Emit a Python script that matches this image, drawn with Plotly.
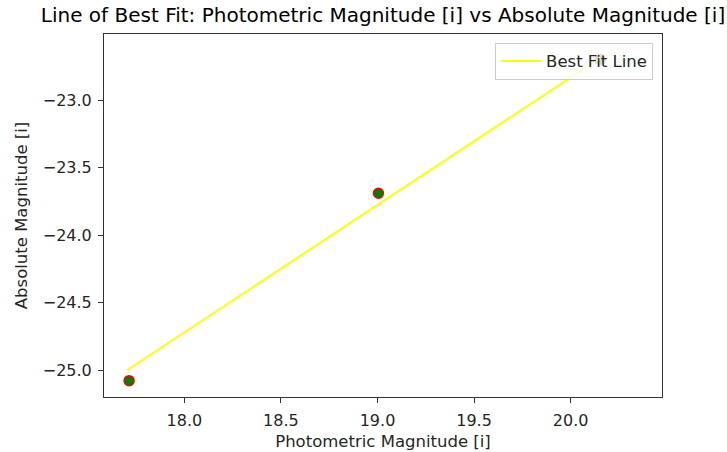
import plotly.graph_objects as go

# Data
photometric_mag = [17.714, 19.005, 20.152]
absolute_mag = [-25.079, -23.691, -22.70]

# Best fit line
fit_x = [17.705, 20.152]
fit_y = [-25.0, -22.69]

x_tick_vals = [18.0, 18.5, 19.0, 19.5, 20.0]
x_tick_text = ["18.0", "18.5", "19.0", "19.5", "20.0"]
y_tick_vals = [-23.0, -23.5, -24.0, -24.5, -25.0]
y_tick_text = ["\u221223.0", "\u221223.5", "\u221224.0", "\u221224.5", "\u221225.0"]

font_family = "DejaVu Sans"
txt_color = "#262626"

fig = go.Figure()
fig.add_trace(go.Scatter(
    x=photometric_mag, y=absolute_mag, mode="markers",
    marker=dict(color="green", size=10, line=dict(color="red", width=1.5)),
    showlegend=False,
))
fig.add_trace(go.Scatter(
    x=fit_x, y=fit_y, mode="lines",
    line=dict(color="yellow", width=2),
    name="Best Fit Line",
))

axis_common = dict(
    showgrid=False, zeroline=False, showline=True, mirror=True,
    linecolor="#333333", linewidth=1, automargin=False,
    ticks="outside", ticklen=5, tickwidth=1, tickcolor="#333333",
    tickfont=dict(family=font_family, size=16, color=txt_color),
)

fig.update_layout(
    width=727, height=452,
    margin=dict(l=104, r=65, t=34, b=55),
    paper_bgcolor="white", plot_bgcolor="white",
    title=dict(
        text="Line of Best Fit: Photometric Magnitude [i] vs Absolute Magnitude [i]",
        x=0.5, xref="paper", xanchor="center",
        y=1 - 15 / 452, yref="container", yanchor="middle",
        font=dict(family=font_family, size=20, color="black"),
    ),
    xaxis=dict(
        range=[17.584, 20.473], tickvals=x_tick_vals, ticktext=x_tick_text,
        ticklabelstandoff=4,
        title=dict(text="Photometric Magnitude [i]", standoff=6,
                   font=dict(family=font_family, size=16.5, color=txt_color)),
        **axis_common,
    ),
    yaxis=dict(
        range=[-25.2, -22.511], tickvals=y_tick_vals, ticktext=y_tick_text,
        ticklabelstandoff=3,
        title=dict(text="Absolute Magnitude [i]", standoff=10,
                   font=dict(family=font_family, size=16.5, color=txt_color)),
        **axis_common,
    ),
    legend=dict(
        x=0.984, y=0.976, xanchor="right", yanchor="top",
        bgcolor="rgba(255,255,255,0.8)", bordercolor="#cccccc", borderwidth=1,
        itemwidth=40,
        font=dict(family=font_family, size=16.5, color=txt_color),
    ),
)

fig.write_html("out.html")
